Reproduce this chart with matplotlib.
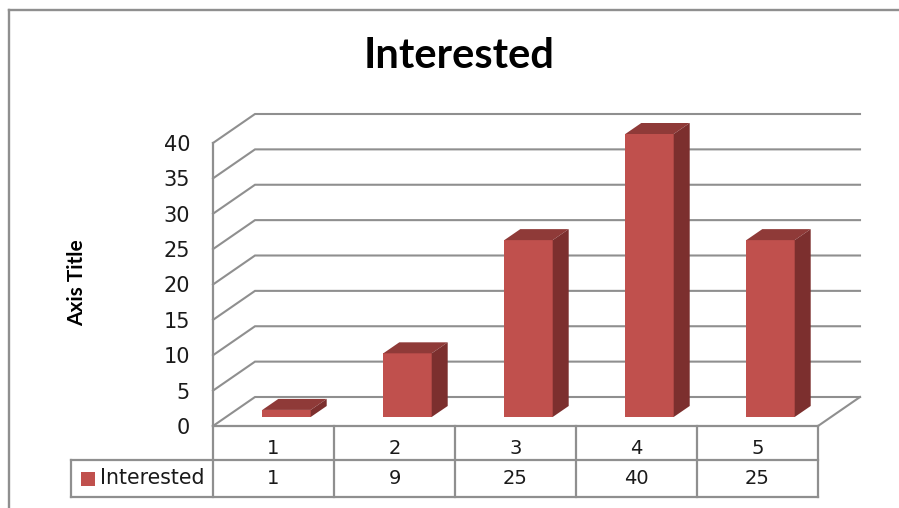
import matplotlib
matplotlib.use("Agg")
import matplotlib.pyplot as plt
from matplotlib.patches import Polygon, Rectangle
from matplotlib.lines import Line2D

categories = ["1", "2", "3", "4", "5"]
values = [1, 9, 25, 40, 25]
y_ticks = [0, 5, 10, 15, 20, 25, 30, 35, 40]
series_name = "Interested"

W, H = 899, 508
GREY = "#8f8f8f"
FRONT = "#c0504d"
TOP = "#8f3a38"
SIDE = "#7c2f2e"

fig = plt.figure(figsize=(W / 100, H / 100), dpi=100)

# outer chart frame, runs off the right and bottom of the picture
fig.add_artist(Line2D([9 / W, 9 / W], [0, 1 - 10 / H], color=GREY, lw=1.7))
fig.add_artist(Line2D([9 / W, 1], [1 - 10 / H, 1 - 10 / H], color=GREY, lw=1.7))

# axes sit on the front plane of the 3d box
ax = fig.add_axes([213 / W, (H - 426) / H, 605 / W, 283 / H])
ax.set_xlim(0, 5)
ax.set_ylim(0, 40)
ax.patch.set_visible(False)

# pixels to data units
px = 5 / 605
py = 40 / 283
depth_x = 42 * px
depth_y = 29 * py

# walls
for t in y_ticks:
    ax.plot([0, depth_x, 5 + depth_x], [t, t + depth_y, t + depth_y], color=GREY, lw=1.5,
            clip_on=False, zorder=1, solid_joinstyle="miter")
ax.plot([5, 5 + depth_x], [0, depth_y], color=GREY, lw=1.5, clip_on=False, zorder=1)

# bars, set back a bit from the front plane
bar_w = 0.4
off_x = 13 * px
off_y = 9 * py
side_x = 16 * px
side_y = 11 * py
base = off_y
centers = [i + 0.5 + off_x for i in range(len(values))]
ax.bar(centers, values, width=bar_w, bottom=base, color=FRONT, clip_on=False, zorder=3)
for c, v in zip(centers, values):
    l, r = c - bar_w / 2, c + bar_w / 2
    top = base + v
    ax.add_patch(Polygon([(l, top), (r, top), (r + side_x, top + side_y), (l + side_x, top + side_y)],
                         closed=True, fc=TOP, ec="none", clip_on=False, zorder=3))
    ax.add_patch(Polygon([(r, base), (r + side_x, base + side_y), (r + side_x, top + side_y), (r, top)],
                         closed=True, fc=SIDE, ec="none", clip_on=False, zorder=3))

# ticks and spines
for s in ["top", "right", "bottom"]:
    ax.spines[s].set_visible(False)
ax.spines["left"].set_color(GREY)
ax.spines["left"].set_linewidth(1.6)
ax.set_yticks(y_ticks)
ax.set_xticks([i + 0.5 for i in range(len(categories))])
ax.set_xticklabels(categories)
ax.tick_params(axis="y", length=0, pad=16.5, labelsize=15, labelcolor="#1a1a1a")
ax.tick_params(axis="x", length=0, pad=9.5, labelsize=14, labelcolor="#1a1a1a")

# data table under the axis
row1 = -34 * py
row2 = -71 * py
left = -142 * px
ax.plot([0, 5], [0, 0], color=GREY, lw=1.6, clip_on=False, zorder=2)
ax.plot([left, 5], [row1, row1], color=GREY, lw=1.6, clip_on=False)
ax.plot([left, 5], [row2, row2], color=GREY, lw=1.6, clip_on=False)
ax.plot([left, left], [row1, row2], color=GREY, lw=1.6, clip_on=False)
for i in range(len(categories) + 1):
    ax.plot([i, i], [0, row2], color=GREY, lw=1.6, clip_on=False)
mid = (row1 + row2) / 2
for i, v in enumerate(values):
    ax.text(i + 0.5, mid, str(v), ha="center", va="center", fontsize=14, color="#1a1a1a")
ax.add_patch(Rectangle((-132 * px, mid - 7 * py), 14 * px, 14 * py, fc=FRONT, ec="none", clip_on=False))
ax.text(-113 * px, mid, series_name, ha="left", va="center", fontsize=14.8, color="#1a1a1a")

fig.text(459 / W, 1 - 56 / H, series_name, ha="center", va="center", fontsize=30,
         fontweight="bold", family="Lato", color="black")
fig.text(77 / W, 1 - 283 / H, "Axis Title", ha="center", va="center", rotation=90, fontsize=15,
         fontweight="bold", family="Lato", color="black")

fig.savefig("out.png", dpi=100)
